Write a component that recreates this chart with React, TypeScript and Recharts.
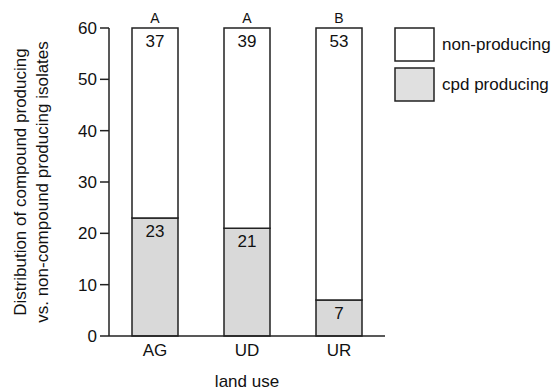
import { BarChart, Bar, XAxis, YAxis, LabelList, Label } from "recharts";

const landUse = ["AG", "UD", "UR"];
const cpdProducing = [23, 21, 7];
const nonProducing = [37, 39, 53];
const groupLetters = ["A", "A", "B"];
const yTicks = [0, 10, 20, 30, 40, 50, 60];

const data = landUse.map((name, i) => ({
  name,
  cpd: cpdProducing[i],
  non: nonProducing[i],
  letter: groupLetters[i],
}));

const font = "'Liberation Sans', Arial, sans-serif";

function YLabel(props: any) {
  const vb = props.viewBox || {};
  const cy = vb.y + vb.height / 2;
  return (
    <text
      transform={`translate(26, ${cy}) rotate(-90)`}
      textAnchor="middle"
      fontSize={17}
      fontFamily={font}
      fill="#111"
    >
      <tspan x={0} dy={0}>Distribution of compound producing</tspan>
      <tspan x={0} dy={22}>vs. non-compound producing isolates</tspan>
    </text>
  );
}

// legend is drawn outside the chart so it does not shrink the plot
function LegendBox() {
  const items = [
    { label: "non-producing", fill: "#ffffff" },
    { label: "cpd producing", fill: "#e0e0e0" },
  ];
  return (
    <svg width={170} height={80} style={{ position: "absolute", left: 394, top: 27 }}>
      {items.map((it, i) => (
        <g key={it.label}>
          <rect x={1} y={1 + i * 40} width={39} height={33} fill={it.fill} stroke="#222" strokeWidth={1.5} />
          <text x={48} y={23 + i * 40} fontSize={17} fontFamily={font} fill="#111">
            {it.label}
          </text>
        </g>
      ))}
    </svg>
  );
}

export default function App() {
  return (
    <div style={{ position: "absolute", left: 0, top: 0, width: 560, height: 391 }}>
      <BarChart
        width={560}
        height={391}
        data={data}
        margin={{ top: 28, right: 175, left: 0, bottom: 0 }}
        barCategoryGap={0}
      >
        <XAxis
          dataKey="name"
          tickLine={false}
          axisLine={{ stroke: "#222", strokeWidth: 1.5 }}
          tick={{ fill: "#111", fontSize: 17, fontFamily: font }}
          tickMargin={2}
          height={55}
        >
          <Label value="land use" position="insideBottom" offset={4} fontSize={17} fontFamily={font} fill="#111" />
        </XAxis>
        <YAxis
          domain={[0, 60]}
          ticks={yTicks}
          width={109}
          tickSize={9}
          tickMargin={3}
          axisLine={{ stroke: "#222", strokeWidth: 1.5 }}
          tickLine={{ stroke: "#222", strokeWidth: 1.5 }}
          tick={{ fill: "#111", fontSize: 17, fontFamily: font }}
        >
          <Label content={<YLabel />} />
        </YAxis>
        <Bar
          dataKey="cpd"
          stackId="a"
          fill="#d9d9d9"
          stroke="#222"
          strokeWidth={1.5}
          barSize={46}
          isAnimationActive={false}
        >
          <LabelList dataKey="cpd" position="insideTop" offset={7} fill="#111" fontSize={17} fontFamily={font} />
        </Bar>
        <Bar
          dataKey="non"
          stackId="a"
          fill="#ffffff"
          stroke="#222"
          strokeWidth={1.5}
          barSize={46}
          isAnimationActive={false}
        >
          <LabelList dataKey="non" position="insideTop" offset={7} fill="#111" fontSize={17} fontFamily={font} />
          <LabelList dataKey="letter" position="top" offset={5} fill="#111" fontSize={14} fontFamily={font} />
        </Bar>
      </BarChart>
      <LegendBox />
    </div>
  );
}
